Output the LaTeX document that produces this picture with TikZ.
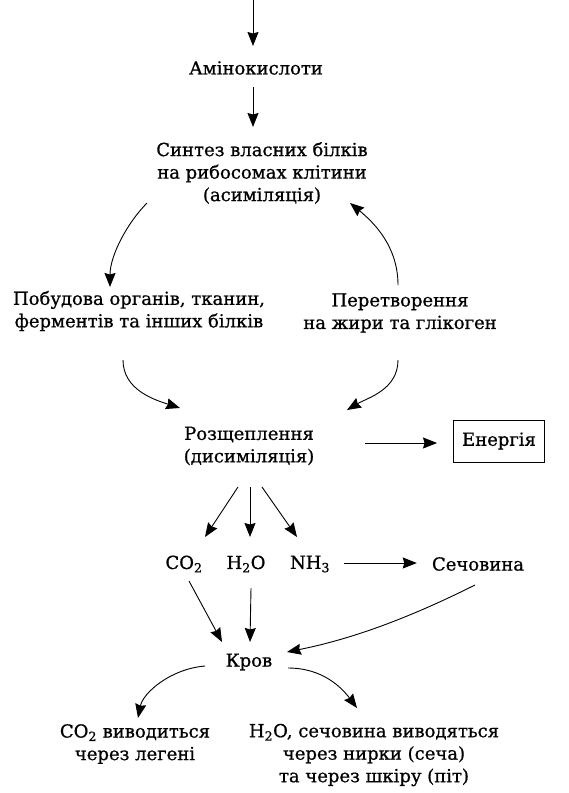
\documentclass[tikz,border=0pt]{standalone}
\usepackage{fontspec}
\setmainfont[FakeBold=0.8]{DejaVu Serif}
\usetikzlibrary{arrows.meta,calc}
\begin{document}
\begin{tikzpicture}[x=1pt,y=-1pt,
  arr/.style={-{Stealth[length=14pt,width=11pt,inset=1.5pt]}, line width=0.9pt},
  txt/.style={inner sep=0pt, align=center, font=\fontsize{18}{22.5}\selectfont}]
\useasboundingbox (0,0) rectangle (568,793);
\coordinate (top) at (253,0);
\node[txt] (amino) at (256,68) {Амінокислоти};
\node[txt] (synth) at (262,173) {Синтез власних білків\\на рибосомах клітини\\(асиміляція)};
\node[txt] (build) at (139,311) {Побудова органів, тканин,\\ферментів та інших білків};
\node[txt] (conv) at (400,313) {Перетворення\\на жири та глікоген};
\node[txt] (split) at (249,446) {Розщеплення\\(дисиміляція)};
\node[txt, draw, line width=0.9pt, minimum width=91pt, minimum height=42pt] (energy) at (499,441) {Енергія};
\node[txt] (co2) at (184,564) {CO\textsubscript{2}};
\node[txt] (h2o) at (246,564) {H\textsubscript{2}O};
\node[txt] (nh3) at (310,564) {NH\textsubscript{3}};
\node[txt] (urea) at (478,564) {Сечовина};
\node[txt] (blood) at (249,662) {Кров};
\node[txt] (out1) at (135,744) {CO\textsubscript{2} виводиться\\через легені};
\node[txt] (out2) at (374,755) {H\textsubscript{2}O, сечовина виводяться\\через нирки (сеча)\\та через шкіру (піт)};

\draw[arr] (top) -- ($(amino)+(-3,-22)$);
\draw[arr] ($(amino)+(-3,19)$) -- ($(synth)+(-9,-46)$);
\draw[arr] ($(synth)+(-115,30)$) .. controls +(-19,19) and +(0,-32) .. ($(build)+(-29,-24)$);
\draw[arr] ($(conv)+(-2,-28)$) .. controls +(0,-40) and +(22,18) .. ($(synth)+(88,30)$);
\draw[arr] ($(build)+(-16,49)$) .. controls +(0,30) and +(-25,-8) .. ($(split)+(-69,-38)$);
\draw[arr] ($(conv)+(-2,47)$) .. controls +(0,30) and +(20,-12) .. ($(split)+(98,-36)$);
\draw[arr] ($(split)+(116,-3)$) -- ($(energy.west)+(-16,2)$);
\draw[arr] ($(split)+(-11,41)$) -- ($(co2)+(21,-27)$);
\draw[arr] ($(split)+(1,41)$) -- ($(h2o)+(4,-27)$);
\draw[arr] ($(split)+(13,41)$) -- ($(nh3)+(-13,-27)$);
\draw[arr] ($(nh3.east)+(14,-1)$) -- ($(urea.west)+(-15,-1)$);
\draw[arr] ($(co2)+(5,17)$) -- ($(blood)+(-27,-20)$);
\draw[arr] ($(h2o)+(5,24)$) -- ($(blood)+(1,-20)$);
\draw[arr] ($(urea)+(-3,21)$) .. controls +(-60,30) and +(70,-14) .. ($(blood)+(38,-10)$);
\draw[arr] ($(blood)+(-44,4)$) .. controls +(-35,3) and +(5,-25) .. ($(out1)+(3,-26)$);
\draw[arr] ($(blood)+(39,6)$) .. controls +(35,0) and +(-15,-20) .. ($(out2)+(-17,-47)$);
\end{tikzpicture}
\end{document}
